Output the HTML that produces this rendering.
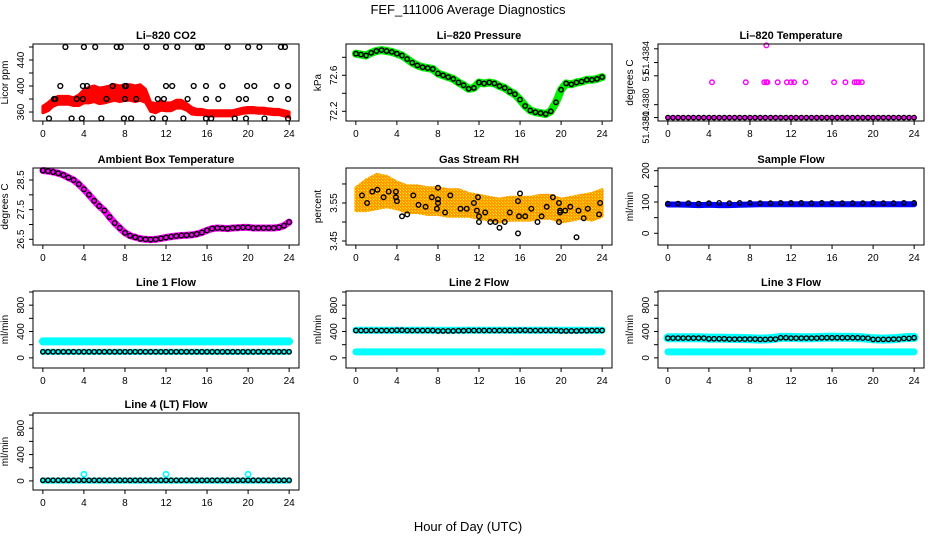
<!DOCTYPE html>
<html><head><meta charset="utf-8"><style>
html,body{margin:0;padding:0;background:#fff;}
svg{display:block;font-family:"Liberation Sans",Arial,sans-serif;}
</style></head><body>
<svg id="chart" width="936" height="540" viewBox="0 0 936 540" xmlns="http://www.w3.org/2000/svg">
<defs>
<pattern id="rhpat" width="3" height="3" patternUnits="userSpaceOnUse"><rect width="3" height="3" fill="#ff9a00"/><rect x="1" y="1" width="1" height="1" fill="#ffee00"/><rect x="0" y="0" width="1" height="1" fill="#ffd000"/></pattern>
</defs>
<text x="468" y="14" font-size="13" text-anchor="middle">FEF_111006  Average Diagnostics</text>
<text x="468" y="531" font-size="13" text-anchor="middle">Hour of Day (UTC)</text>
</svg>
<script>
// ---------- data ----------
const hours = [0,0.5,1,1.5,2,2.5,3,3.5,4,4.5,5,5.5,6,6.5,7,7.5,8,8.5,9,9.5,10,10.5,11,11.5,12,12.5,13,13.5,14,14.5,15,15.5,16,16.5,17,17.5,18,18.5,19,19.5,20,20.5,21,21.5,22,22.5,23,23.5,24];
const hourly = [0,1,2,3,4,5,6,7,8,9,10,11,12,13,14,15,16,17,18,19,20,21,22,23,24];
const xTicks = [0,4,8,12,16,20,24];

const co2Vals = [364,368,375,378,378,378,376,378,384,386,388,385,386,388,390,388,390,390,388,390,385,368,366,370,368,368,372,372,368,362,360,360,358,358,358,358,358,358,360,362,363,363,362,362,361,360,360,358,356];
const co2Spread = [5,6,6,6,6,6,6,8,10,12,12,12,12,12,12,12,12,12,12,12,10,7,7,7,6,6,6,6,5,5,4,4,4,4,4,4,4,4,4,4,4,4,4,4,4,4,4,4,4];
const co2BlackX460 = [2.2,4,5.1,7.2,7.6,10.1,12,13.1,15.1,15.5,18,20,21.1,23.2,23.6];
const co2BlackX400 = [1.7,3.9,4.3,6.8,8,8.1,12,12.6,14.7,15.9,17.5,19.9,20.6,22.8,23.9];
const co2BlackX380 = [1.1,1.2,3.3,3.9,6.2,8,9.1,11.2,11.8,14.1,15.9,17.1,19.1,19.8,22.2,23.9];
const co2BlackX350 = [0.6,2.8,3.8,5.7,7.9,8.6,10.7,11.9,13.7,15.9,16.4,18.7,19.8,21.6,23.9];

const presVals = [72.84,72.83,72.82,72.85,72.87,72.88,72.87,72.86,72.84,72.82,72.78,72.74,72.71,72.69,72.68,72.67,72.62,72.60,72.58,72.56,72.52,72.49,72.45,72.46,72.52,72.51,72.52,72.51,72.48,72.46,72.42,72.39,72.33,72.26,72.21,72.19,72.18,72.17,72.20,72.30,72.44,72.51,72.50,72.52,72.53,72.55,72.55,72.56,72.58];

const liTempBase = 51.4380;
const liTempMidX = [4.3,7.6,9.4,9.6,9.7,10.7,11.6,12,12.3,13.4,16.2,17.3,18.2,18.4,18.6,18.9];
const liTempMid = 51.438205;
const liTempTopX = [9.6];
const liTempTop = 51.43842;
const liTempTicks = [51.43800,51.438075,51.438243,51.43832,51.4384];
const liTempTickLabels = ["51.4380","51.4380","51","51.4384",""];
const liTempLabelAt = [51.437943,51.438075,51.43824,51.43835,51.4384];

const ambVals = [28.82,28.8,28.77,28.73,28.67,28.58,28.5,28.36,28.19,28.0,27.8,27.62,27.47,27.25,27.05,26.88,26.72,26.62,26.57,26.52,26.5,26.49,26.5,26.53,26.56,26.59,26.61,26.63,26.64,26.65,26.68,26.73,26.8,26.86,26.88,26.87,26.86,26.88,26.89,26.9,26.9,26.88,26.88,26.88,26.88,26.88,26.9,26.96,27.08];

const rhCenter = [3.56,3.57,3.58,3.58,3.57,3.56,3.56,3.555,3.555,3.55,3.55,3.545,3.54,3.535,3.53,3.535,3.535,3.535,3.54,3.54,3.53,3.535,3.54,3.54,3.55];
const rhSpread = [0.03,0.04,0.045,0.04,0.035,0.035,0.035,0.035,0.035,0.035,0.035,0.03,0.03,0.03,0.03,0.03,0.03,0.03,0.03,0.03,0.03,0.03,0.03,0.035,0.035];
const rhBlackX = [0.6,1.1,1.6,2.1,2.7,3.2,3.9,3.9,4,4.5,5,5.6,6.1,6.8,7.4,7.9,8,8,8,8.7,9.2,10.2,10.8,11.5,11.8,11.9,12,12,12.6,13.1,13.6,14,14.5,15,15.8,15.9,16,15.8,16.5,17.1,17.7,18.1,18.6,19.2,19.8,19.9,19.9,19.8,20.4,20.9,21.5,21.7,22.2,22.6,23.7,23.8];
const rhBlackY = [3.57,3.55,3.58,3.585,3.565,3.58,3.58,3.565,3.555,3.515,3.52,3.57,3.545,3.54,3.565,3.535,3.55,3.56,3.59,3.525,3.57,3.535,3.535,3.55,3.53,3.565,3.5,3.515,3.525,3.5,3.5,3.485,3.5,3.525,3.555,3.515,3.575,3.47,3.515,3.535,3.5,3.515,3.54,3.565,3.55,3.53,3.525,3.5,3.53,3.54,3.46,3.53,3.51,3.535,3.52,3.55];

const sampleBand = [92,92,91,90,91,90,90,91,92,93,93,93,93,93,93,93,93,93,93,93,93,93,93,93,93];
const sampleBlack = [95,95,96,95,96,97,96,97,97,96,96,97,97,97,96,97,97,96,96,96,97,96,96,97,97];

const line1High = [250,250,250,250,250,250,250,250,250,250,250,250,250,250,250,250,250,250,250,250,250,250,250,250,250];
const line1Low = [90,90,90,90,90,90,90,90,90,90,90,90,90,90,90,90,90,90,90,90,90,90,90,90,90];
const line1Black = [92,92,92,92,92,92,92,92,92,92,92,92,92,92,92,92,92,92,92,92,92,92,92,92,92];
const line2High = [420,420,420,420,420,420,420,420,420,420,420,420,420,420,420,420,420,420,420,420,420,420,420,420,420];
const line2Low = [90,90,90,90,90,90,90,90,90,90,90,90,90,90,90,90,90,90,90,90,90,90,90,90,90];
const line2Black = [415,415,415,415,420,415,415,415,410,410,412,415,415,415,415,415,418,415,415,415,410,410,412,415,415];
const line3High = [305,305,305,305,300,300,295,295,290,285,290,310,310,305,305,310,315,310,310,305,290,285,290,305,310];
const line3Low = [90,90,90,90,90,90,90,90,90,90,90,90,90,90,90,90,90,90,90,90,90,90,90,90,90];
const line3Black = [300,300,300,300,290,290,285,285,285,280,285,305,300,300,300,305,305,305,305,300,280,280,285,295,305];
const line4Band = [5,5,5,5,5,5,5,5,5,5,5,5,5,5,5,5,5,5,5,5,5,5,5,5,5];
const line4Black = [10,10,10,10,10,10,10,10,10,10,10,10,10,10,10,10,10,10,10,10,10,10,10,10,10];
const line4SpikeX = [4,12,20];
const line4SpikeY = [100,100,100];

// ---------- helpers ----------
const NS = "http://www.w3.org/2000/svg";
const svg = document.getElementById("chart");
const colLeft = [33,346,658];
const rowTop = [44,168,291,413];
const PW = 266, PH = 77;
function mk(tag, attrs, parent){ const e=document.createElementNS(NS,tag); for(const k in attrs) e.setAttribute(k,attrs[k]); (parent||svg).appendChild(e); return e; }

function makePanel(name, col, row, title, ylab, ymin, ymax, ticks, labels, labelAt){
  const L=colLeft[col], T=rowTop[row];
  const g=mk("g",{});
  
  
  const sx=h=>L+(h+0.96)/25.92*PW;
  const sy=v=>T+PH-(v-ymin)/(ymax-ymin)*PH;
  const t=mk("text",{x:L+PW/2,y:T-5,"font-size":11,"font-weight":"bold","text-anchor":"middle"},g);
  t.textContent=title;
  
  
  const yl=mk("text",{x:0,y:0,"font-size":10,"text-anchor":"middle",transform:`translate(${L-25},${T+PH/2}) rotate(-90)`},g);
  yl.textContent=ylab;
  
  
  const plot=mk("g",{},g);
  
  
  const xa=mk("g",{},g);
  
  
  xTicks.forEach(h=>{
    mk("line",{x1:sx(h),x2:sx(h),y1:T+PH,y2:T+PH+4,stroke:"#000"},xa);
    const tl=mk("text",{x:sx(h),y:T+PH+16,"font-size":10,"text-anchor":"middle"},xa);
    tl.textContent=String(h);
  });
  const ya=mk("g",{},g);
  
  
  mk("line",{x1:L,x2:L,y1:sy(ticks[0]),y2:sy(ticks[ticks.length-1]),stroke:"#000"},ya);
  ticks.forEach((v,i)=>{
    mk("line",{x1:L-4,x2:L,y1:sy(v),y2:sy(v),stroke:"#000"},ya);
    if(labels[i]){
      const ly = labelAt ? sy(labelAt[i]) : sy(v);
      const tl=mk("text",{x:0,y:0,"font-size":labelAt?9:10,"text-anchor":"middle",transform:`translate(${L-9},${ly}) rotate(-90)`},ya);
      tl.textContent=labels[i];
    }
  });
  const box=mk("rect",{x:L,y:T,width:PW,height:PH,fill:"none",stroke:"#000","stroke-width":1},g);
  
  
  return {g:plot,sx,sy};
}
function band(p, name, xs, vals, color, width){
  const pts=xs.map((h,i)=>p.sx(h).toFixed(1)+","+p.sy(vals[i]).toFixed(1)).join(" ");
  const e=mk("polyline",{points:pts,fill:"none",stroke:color,"stroke-width":width,"stroke-linejoin":"round","stroke-linecap":"round"},p.g);
  
  
}
function area(p, name, xs, vals, spread, fill){
  const up=xs.map((h,i)=>p.sx(h).toFixed(1)+","+p.sy(vals[i]+spread[i]).toFixed(1));
  const dn=xs.map((h,i)=>p.sx(h).toFixed(1)+","+p.sy(vals[i]-spread[i]).toFixed(1)).reverse();
  const e=mk("polygon",{points:up.concat(dn).join(" "),fill:fill,stroke:fill,"stroke-width":3,"stroke-linejoin":"round"},p.g);
  
  
}
function pts(p, name, xs, ys, color, r, sw){
  const g=mk("g",{},p.g);
  
  
  xs.forEach((h,i)=>{
    const y = Array.isArray(ys)? ys[i] : ys;
    mk("circle",{cx:p.sx(h).toFixed(1),cy:p.sy(y).toFixed(1),r:r||2.4,fill:"none",stroke:color,"stroke-width":sw||1.4},g);
  });
}

// ---------- panels ----------
let p;
p=makePanel("co2",0,0,"Li–820 CO2","Licor ppm",346.2,464.6,[360,380,400,420,440,460],["360","","400","","440",""]);
area(p,"co2-series",hours,co2Vals,co2Spread,"#ff0000");
pts(p,"co2-black-460",co2BlackX460,460,"#000");
pts(p,"co2-black-400",co2BlackX400,400,"#000");
pts(p,"co2-black-380",co2BlackX380,380,"#000");
pts(p,"co2-black-350",co2BlackX350,350,"#000");

p=makePanel("pressure",1,0,"Li–820 Pressure","kPa",72.092,72.948,[72.2,72.4,72.6,72.8],["72.2","","72.6",""]);
band(p,"pressure-series",hours,presVals,"#00ee00",8);
pts(p,"pressure-black-points",hours,presVals,"#000",2.2,1.5);

p=makePanel("li-temp",2,0,"Li–820 Temperature","degrees C",51.43798,51.438428,liTempTicks,liTempTickLabels,liTempLabelAt);
band(p,"li-temp-base-series",[0,24],[liTempBase,liTempBase],"#ff00ff",4);
pts(p,"li-temp-black-points",hours,liTempBase,"#000",2.2,1.3);
pts(p,"li-temp-mid-points",liTempMidX,liTempMid,"#ff00ff",2.3,1.4);
pts(p,"li-temp-top-points",liTempTopX,liTempTop,"#ff00ff",2.3,1.4);

p=makePanel("ambient",0,1,"Ambient Box Temperature","degrees C",26.308,28.905,[26.5,27.0,27.5,28.0,28.5],["26.5","","27.5","","28.5"]);
band(p,"ambient-series",hours,ambVals,"#ff00ff",7);
pts(p,"ambient-black-points",hours,ambVals,"#000",2.3,1.4);

p=makePanel("rh",1,1,"Gas Stream RH","percent",3.4395,3.642,[3.45,3.50,3.55,3.60],["3.45","","3.55",""]);
area(p,"rh-series",hourly,rhCenter,rhSpread,"url(#rhpat)");
pts(p,"rh-black-points",rhBlackX,rhBlackY,"#000",2.3,1.4);

p=makePanel("sample-flow",2,1,"Sample Flow","ml/min",-37.4,208.6,[0,50,100,150,200],["0","","100","","200"]);
band(p,"sample-flow-series",hourly,sampleBand,"#0000ff",6);
pts(p,"sample-flow-black-points",hours.filter((h,i)=>i%2==0),sampleBlack,"#000",2.2,1.4);

const flowTicks=[0,200,400,600,800,1000], flowLabels=["0","","400","","800",""];
p=makePanel("line1-flow",0,2,"Line 1 Flow","ml/min",-154,1015,flowTicks,flowLabels);
band(p,"line1-high-series",hourly,line1High,"#00ffff",8);
band(p,"line1-low-series",hourly,line1Low,"#00ffff",6);
pts(p,"line1-black-points",hourly.concat(hours.filter((h,i)=>i%2==1)),line1Black.concat(line1Black),"#000",2.2,1.4);

p=makePanel("line2-flow",1,2,"Line 2 Flow","ml/min",-154,1015,flowTicks,flowLabels);
band(p,"line2-high-series",hourly,line2High,"#00ffff",7);
band(p,"line2-low-series",hourly,line2Low,"#00ffff",7);
pts(p,"line2-black-points",hourly.concat(hours.filter((h,i)=>i%2==1)),line2Black.concat(line2Black),"#000",2.2,1.4);

p=makePanel("line3-flow",2,2,"Line 3 Flow","ml/min",-154,1015,flowTicks,flowLabels);
band(p,"line3-high-series",hourly,line3High,"#00ffff",9);
band(p,"line3-low-series",hourly,line3Low,"#00ffff",7);
pts(p,"line3-black-points",hourly.concat(hours.filter((h,i)=>i%2==1)),line3Black.concat(line3Black),"#000",2.2,1.4);

p=makePanel("line4-flow",0,3,"Line 4 (LT) Flow","ml/min",-138,1031,flowTicks,flowLabels);
band(p,"line4-series",hourly,line4Band,"#00ffff",6);
pts(p,"line4-black-points",hourly.concat(hours.filter((h,i)=>i%2==1)),line4Black.concat(line4Black),"#000",2.2,1.4);
pts(p,"line4-spike-points",line4SpikeX,line4SpikeY,"#00ffff",2.6,1.6);
</script>
</body></html>
